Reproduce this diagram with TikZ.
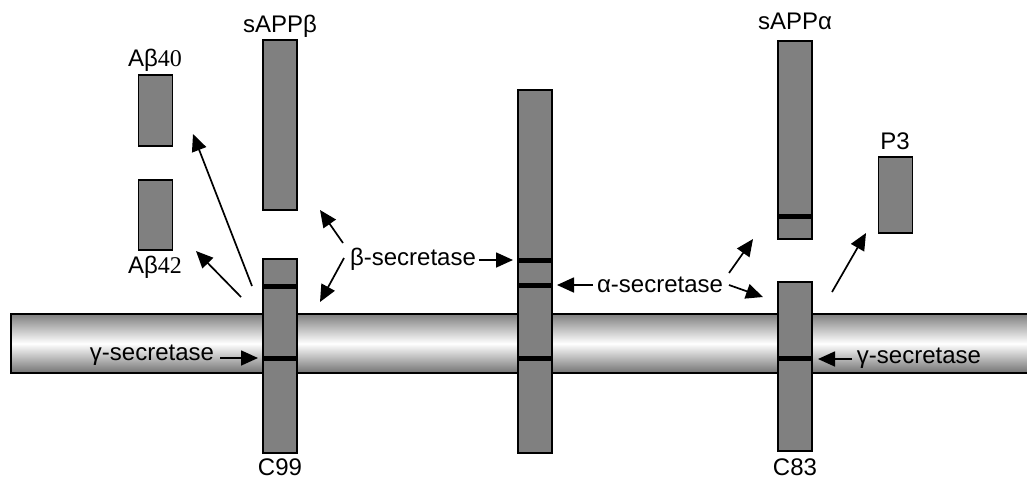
\documentclass[tikz,border=0pt]{standalone}
\usepackage{fontspec}
\setmainfont{Liberation Sans}
\newfontfamily\serifnum{Liberation Serif}
\usetikzlibrary{arrows.meta}
\definecolor{pepgray}{HTML}{808080}
\begin{document}
\begin{tikzpicture}[x=1pt,y=-1pt,
  pep/.style={draw=black, fill=pepgray, line width=1.6pt, inner sep=0pt, minimum width=34pt},
  band/.style={line width=5pt, black},
  lbl/.style={inner sep=0pt, font=\fontsize{24}{28}\selectfont},
  arr/.style={line width=1.7pt, -{Triangle[length=17pt,width=15pt]}},
  membrane/.style={draw=black, line width=1.6pt, top color=black!50, bottom color=black!55, middle color=white}
]
\useasboundingbox (0,0) rectangle (1027,480);
% membrane
\path[membrane] (11,314) rectangle (1032,373);
% peptides
\node[pep, minimum height=194pt] (c99) at (280,356) {};
\node[pep, minimum height=170pt] (sappb) at (280,125) {};
\node[pep, minimum height=71pt] (ab40) at (155.5,110.5) {};
\node[pep, minimum height=70pt] (ab42) at (155.5,215) {};
\node[pep, minimum height=363pt] (app) at (535,271.5) {};
\node[pep, minimum height=198pt] (sappa) at (795,140) {};
\node[pep, minimum height=169pt] (c83) at (795,366.5) {};
\node[pep, minimum height=76pt] (p3) at (895.5,195) {};
% cleavage bands
\draw[band] (c99.west |- 0,286) -- (c99.east |- 0,286);
\draw[band] (c99.west |- 0,358) -- (c99.east |- 0,358);
\draw[band] (app.west |- 0,260) -- (app.east |- 0,260);
\draw[band] (app.west |- 0,285) -- (app.east |- 0,285);
\draw[band] (app.west |- 0,358) -- (app.east |- 0,358);
\draw[band] (sappa.west |- 0,216) -- (sappa.east |- 0,216);
\draw[band] (c83.west |- 0,358) -- (c83.east |- 0,358);
% labels
\node[lbl] (lsappb) at (280,26) {sAPPβ};
\node[lbl] (lab40) at (155,60) {Aβ{\serifnum 40}};
\node[lbl] (lab42) at (155,267) {Aβ{\serifnum 42}};
\node[lbl] (bsec) at (413,259) {β-secretase};
\node[lbl] (asec) at (660,285) {α-secretase};
\node[lbl] (gsecl) at (152,355) {γ-secretase};
\node[lbl] (gsecr) at (919,358) {γ-secretase};
\node[lbl] (lc99) at (280,467) {C99};
\node[lbl] (lc83) at (795,467) {C83};
\node[lbl] (lsappa) at (795,21) {sAPPα};
\node[lbl] (lp3) at (895,141) {P3};
% arrow end points
\coordinate (a1s) at (252,286); \coordinate (a1e) at (193,134);
\coordinate (a2s) at (241,297); \coordinate (a2e) at (196,251);
\coordinate (b1s) at (343,243); \coordinate (b1e) at (320,210);
\coordinate (b2s) at (344,258); \coordinate (b2e) at (320,302);
\coordinate (b3s) at (479,260); \coordinate (b3e) at (513,260);
\coordinate (c1s) at (593,285); \coordinate (c1e) at (557,285);
\coordinate (c2s) at (729,273); \coordinate (c2e) at (753,239);
\coordinate (c3s) at (729,285); \coordinate (c3e) at (763,297);
\coordinate (d1s) at (832,292); \coordinate (d1e) at (866,233);
\coordinate (g1s) at (852,359); \coordinate (g1e) at (818,359);
\coordinate (g2s) at (220,358); \coordinate (g2e) at (258,358);
% arrows
\draw[arr] (a1s) -- (a1e);
\draw[arr] (a2s) -- (a2e);
\draw[arr] (b1s) -- (b1e);
\draw[arr] (b2s) -- (b2e);
\draw[arr] (b3s) -- (b3e);
\draw[arr] (c1s) -- (c1e);
\draw[arr] (c2s) -- (c2e);
\draw[arr] (c3s) -- (c3e);
\draw[arr] (d1s) -- (d1e);
\draw[arr] (g1s) -- (g1e);
\draw[arr] (g2s) -- (g2e);
\end{tikzpicture}
\end{document}
